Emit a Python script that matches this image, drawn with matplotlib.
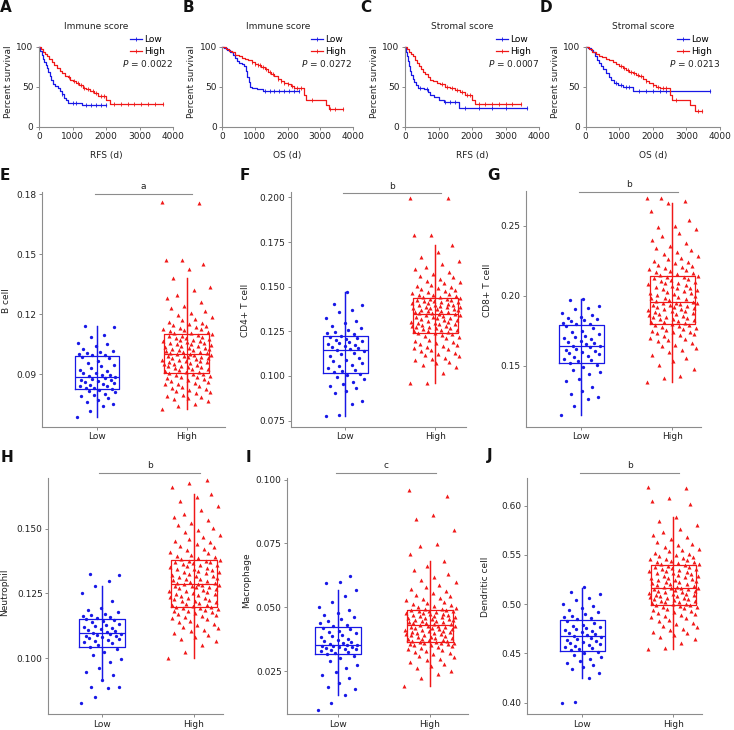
import matplotlib
matplotlib.use("Agg")
import matplotlib.pyplot as plt
import numpy as np
from matplotlib.lines import Line2D

# --------------------------------------------------------------------------
# 設定
# --------------------------------------------------------------------------
W, H = 734, 730
BLUE = "#1818e6"
RED = "#f01818"
GREY = "#8c8c8c"
TXT = "#222222"
FS = 6.5

plt.rcParams["font.family"] = "DejaVu Sans"
plt.rcParams["mathtext.fontset"] = "dejavusans"

# --------------------------------------------------------------------------
# Kaplan-Meier data (time in days, percent survival, censor times)
# --------------------------------------------------------------------------
A_LOW_T = [0, 40, 80, 120, 160, 200, 240, 280, 320, 360, 420, 480, 560, 620, 680, 740, 800, 880, 1280, 2000]
A_LOW_S = [100, 95, 90, 85, 81, 77, 73, 68, 63, 58, 54, 51, 48, 45, 41, 36, 33, 30, 27, 27]
A_LOW_CENS = [700, 1000, 1100, 1400, 1550, 1700, 1850, 2000]
A_HIGH_T = [0, 60, 120, 180, 240, 300, 380, 460, 540, 620, 700, 780, 860, 940, 1020, 1100, 1200,
            1300, 1400, 1520, 1640, 1760, 2010, 2120, 3700]
A_HIGH_S = [100, 97, 94, 91, 88, 85, 81, 77, 73, 70, 67, 64, 62, 59, 57, 55, 52, 49, 47, 45, 42, 39, 34, 28, 28]
A_HIGH_CENS = [900, 1050, 1150, 1250, 1350, 1450, 1600, 1700, 1850, 1950, 2250, 2450, 2650, 2850,
               3050, 3250, 3450, 3700]

B_LOW_T = [0, 60, 150, 250, 320, 380, 450, 520, 600, 680, 730, 770, 810, 850, 920, 1050, 1250, 2350]
B_LOW_S = [100, 98, 96, 94, 90, 86, 82, 80, 78, 76, 70, 62, 56, 50, 48, 47, 45, 45]
B_LOW_CENS = [1300, 1450, 1600, 1750, 1900, 2050, 2200, 2350]
B_HIGH_T = [0, 100, 200, 300, 400, 500, 600, 700, 800, 900, 1000, 1100, 1200, 1300, 1400, 1500, 1600,
            1700, 1800, 1900, 2000, 2100, 2200, 2500, 2560, 3170, 3280, 3700]
B_HIGH_S = [100, 97, 95, 93, 90, 88, 86, 85, 83, 81, 79, 77, 75, 72, 69, 66, 63, 60, 57, 55, 53, 51, 49,
            40, 33, 27, 22, 22]
B_HIGH_CENS = [900, 1000, 1100, 1150, 1250, 1350, 1450, 1550, 1700, 1800, 1900, 2000, 2150, 2300,
               2400, 2750, 3300, 3450, 3700]

C_LOW_T = [0, 30, 60, 90, 120, 150, 190, 230, 280, 340, 400, 560, 680, 760, 880, 1000, 1150, 1620, 3650]
C_LOW_S = [100, 94, 88, 82, 76, 70, 65, 60, 56, 52, 49, 47, 44, 40, 37, 34, 31, 24, 24]
C_LOW_CENS = [450, 650, 1200, 1350, 1500, 1800, 2200, 2600, 3000, 3650]
C_HIGH_T = [0, 60, 120, 180, 240, 300, 360, 420, 480, 540, 600, 680, 760, 850, 950, 1050, 1200, 1350,
            1500, 1650, 1800, 2000, 2100, 3450]
C_HIGH_S = [100, 97, 94, 91, 88, 84, 80, 76, 72, 69, 66, 62, 59, 57, 55, 53, 50, 48, 46, 43, 40, 33, 28, 28]
C_HIGH_CENS = [1100, 1250, 1400, 1550, 1700, 1850, 1950, 2200, 2400, 2600, 2800, 3000, 3200, 3450]

D_LOW_T = [0, 80, 160, 230, 290, 340, 390, 450, 520, 600, 680, 760, 850, 950, 1100, 1400, 3700]
D_LOW_S = [100, 98, 96, 93, 88, 84, 80, 76, 72, 67, 62, 58, 55, 52, 50, 45, 45]
D_LOW_CENS = [900, 1050, 1200, 1300, 1600, 1800, 2000, 2200, 2400, 3700]
D_HIGH_T = [0, 100, 200, 300, 400, 500, 600, 700, 800, 900, 1000, 1100, 1200, 1300, 1400, 1500, 1600,
            1700, 1800, 1900, 2000, 2100, 2200, 2500, 2560, 3100, 3250, 3450]
D_HIGH_S = [100, 97, 94, 91, 89, 87, 85, 83, 81, 78, 76, 73, 71, 69, 67, 65, 63, 60, 57, 55, 52, 50, 48,
            40, 33, 27, 20, 20]
D_HIGH_CENS = [1050, 1150, 1250, 1350, 1450, 1550, 1650, 1800, 2000, 2150, 2300, 2400, 2700, 3350, 3450]

KM_TITLES = ["Immune score", "Immune score", "Stromal score", "Stromal score"]
KM_XLABELS = ["RFS (d)", "OS (d)", "RFS (d)", "OS (d)"]
KM_PVALUES = ["0.0022", "0.0272", "0.0007", "0.0213"]

# --------------------------------------------------------------------------
# Immune cell infiltration (box stats: whisker low, Q1, median, Q3, whisker high)
# --------------------------------------------------------------------------
E_LOW = [0.0687, 0.0718, 0.0741, 0.0752, 0.0760, 0.0771, 0.0779, 0.0790, 0.0798, 0.0803, 0.0811, 0.0815,
         0.0820, 0.0826, 0.0830, 0.0833, 0.0839, 0.0841, 0.0846, 0.0852, 0.0855, 0.0861, 0.0864, 0.0869,
         0.0873, 0.0878, 0.0882, 0.0886, 0.0889, 0.0894, 0.0897, 0.0905, 0.0908, 0.0916, 0.0921, 0.0933,
         0.0940, 0.0948, 0.0957, 0.0968, 0.0979, 0.0988, 0.0994, 0.0997, 0.1001, 0.1004, 0.1009, 0.1016,
         0.1027, 0.1042, 0.1051, 0.1058, 0.1086, 0.1097, 0.1138, 0.1143]
E_HIGH = [0.0727, 0.0741, 0.0752, 0.0768, 0.0774, 0.0781, 0.0786, 0.0793, 0.0797, 0.0804, 0.0809, 0.0815,
          0.0821, 0.0826, 0.0833, 0.0836, 0.0843, 0.0849, 0.0852, 0.0858, 0.0863, 0.0866, 0.0871, 0.0876,
          0.0879, 0.0884, 0.0887, 0.0892, 0.0896, 0.0899, 0.0903, 0.0906, 0.0910, 0.0913, 0.0918, 0.0920,
          0.0925, 0.0927, 0.0931, 0.0934, 0.0937, 0.0941, 0.0943, 0.0946, 0.0950, 0.0953, 0.0955, 0.0959,
          0.0962, 0.0964, 0.0968, 0.0970, 0.0973, 0.0977, 0.0979, 0.0982, 0.0985, 0.0988, 0.0990, 0.0993,
          0.0995, 0.0997, 0.0999, 0.1001, 0.1004, 0.1007, 0.1010, 0.1012, 0.1016, 0.1019, 0.1021, 0.1025,
          0.1028, 0.1031, 0.1033, 0.1037, 0.1040, 0.1043, 0.1046, 0.1049, 0.1051, 0.1055, 0.1058, 0.1061,
          0.1064, 0.1067, 0.1070, 0.1073, 0.1076, 0.1080, 0.1083, 0.1086, 0.1090, 0.1093, 0.1096, 0.1100,
          0.1104, 0.1108, 0.1112, 0.1115, 0.1119, 0.1124, 0.1128, 0.1133, 0.1137, 0.1142, 0.1148, 0.1153,
          0.1158, 0.1163, 0.1170, 0.1178, 0.1187, 0.1195, 0.1204, 0.1216, 0.1228, 0.1243, 0.1262, 0.1280,
          0.1296, 0.1318, 0.1335, 0.1378, 0.1423, 0.1448, 0.1468, 0.1473, 0.1756, 0.1758]
E_LOW_BOX = [0.0687, 0.0828, 0.0887, 0.0992, 0.1143]
E_HIGH_BOX = [0.0727, 0.0908, 0.1002, 0.1102, 0.1378]

F_LOW = [0.0776, 0.0779, 0.0841, 0.0858, 0.0905, 0.0918, 0.0932, 0.0945, 0.0957, 0.0968, 0.0981, 0.0993,
         0.1004, 0.1012, 0.1020, 0.1028, 0.1035, 0.1046, 0.1054, 0.1061, 0.1072, 0.1083, 0.1092, 0.1101,
         0.1112, 0.1121, 0.1130, 0.1140, 0.1147, 0.1152, 0.1157, 0.1163, 0.1168, 0.1172, 0.1178, 0.1184,
         0.1189, 0.1195, 0.1201, 0.1207, 0.1213, 0.1219, 0.1226, 0.1233, 0.1240, 0.1246, 0.1255, 0.1268,
         0.1282, 0.1295, 0.1308, 0.1322, 0.1358, 0.1372, 0.1398, 0.1405, 0.1468]
F_HIGH = [0.0959, 0.0962, 0.1018, 0.1052, 0.1063, 0.1071, 0.1080, 0.1088, 0.1095, 0.1103, 0.1110, 0.1118,
          0.1125, 0.1131, 0.1138, 0.1144, 0.1150, 0.1157, 0.1163, 0.1170, 0.1176, 0.1181, 0.1187, 0.1193,
          0.1198, 0.1204, 0.1210, 0.1216, 0.1222, 0.1228, 0.1233, 0.1238, 0.1243, 0.1246, 0.1250, 0.1253,
          0.1256, 0.1259, 0.1263, 0.1266, 0.1269, 0.1272, 0.1276, 0.1279, 0.1282, 0.1285, 0.1289, 0.1292,
          0.1295, 0.1298, 0.1302, 0.1305, 0.1309, 0.1312, 0.1315, 0.1319, 0.1322, 0.1326, 0.1329, 0.1332,
          0.1336, 0.1339, 0.1342, 0.1345, 0.1349, 0.1352, 0.1354, 0.1357, 0.1360, 0.1362, 0.1365, 0.1368,
          0.1370, 0.1373, 0.1376, 0.1378, 0.1381, 0.1384, 0.1386, 0.1389, 0.1392, 0.1395, 0.1397, 0.1400,
          0.1403, 0.1406, 0.1409, 0.1412, 0.1415, 0.1418, 0.1421, 0.1424, 0.1427, 0.1430, 0.1433, 0.1436,
          0.1440, 0.1443, 0.1447, 0.1451, 0.1455, 0.1459, 0.1464, 0.1469, 0.1474, 0.1479, 0.1485, 0.1491,
          0.1497, 0.1504, 0.1511, 0.1518, 0.1526, 0.1534, 0.1543, 0.1552, 0.1562, 0.1573, 0.1585, 0.1598,
          0.1612, 0.1627, 0.1645, 0.1668, 0.1695, 0.1731, 0.1789, 0.1792, 0.1995, 0.1996]
F_LOW_BOX = [0.0776, 0.1017, 0.1144, 0.1222, 0.1468]
F_HIGH_BOX = [0.0959, 0.1241, 0.1347, 0.1438, 0.1731]

G_LOW = [0.1150, 0.1214, 0.1262, 0.1275, 0.1301, 0.1318, 0.1352, 0.1395, 0.1408, 0.1442, 0.1455, 0.1471,
         0.1490, 0.1508, 0.1524, 0.1533, 0.1545, 0.1552, 0.1561, 0.1570, 0.1582, 0.1590, 0.1598, 0.1606,
         0.1615, 0.1624, 0.1632, 0.1640, 0.1646, 0.1655, 0.1661, 0.1670, 0.1678, 0.1689, 0.1697, 0.1708,
         0.1716, 0.1727, 0.1739, 0.1751, 0.1768, 0.1784, 0.1798, 0.1802, 0.1810, 0.1818, 0.1827, 0.1835,
         0.1846, 0.1853, 0.1862, 0.1878, 0.1905, 0.1913, 0.1930, 0.1968, 0.1976]
G_HIGH = [0.1388, 0.1412, 0.1425, 0.1478, 0.1510, 0.1538, 0.1556, 0.1580, 0.1598, 0.1612, 0.1630, 0.1645,
          0.1652, 0.1667, 0.1675, 0.1688, 0.1694, 0.1703, 0.1711, 0.1718, 0.1726, 0.1733, 0.1740, 0.1746,
          0.1752, 0.1759, 0.1765, 0.1771, 0.1778, 0.1784, 0.1790, 0.1795, 0.1801, 0.1806, 0.1811, 0.1817,
          0.1822, 0.1827, 0.1833, 0.1838, 0.1843, 0.1848, 0.1853, 0.1858, 0.1864, 0.1869, 0.1874, 0.1879,
          0.1884, 0.1889, 0.1894, 0.1899, 0.1904, 0.1909, 0.1914, 0.1919, 0.1924, 0.1929, 0.1934, 0.1939,
          0.1943, 0.1947, 0.1950, 0.1953, 0.1958, 0.1964, 0.1970, 0.1976, 0.1982, 0.1988, 0.1994, 0.2000,
          0.2006, 0.2012, 0.2018, 0.2024, 0.2030, 0.2036, 0.2042, 0.2048, 0.2054, 0.2060, 0.2066, 0.2072,
          0.2078, 0.2084, 0.2090, 0.2096, 0.2102, 0.2108, 0.2114, 0.2120, 0.2126, 0.2132, 0.2137, 0.2142,
          0.2149, 0.2155, 0.2162, 0.2169, 0.2176, 0.2183, 0.2190, 0.2198, 0.2206, 0.2214, 0.2223, 0.2232,
          0.2241, 0.2251, 0.2262, 0.2273, 0.2285, 0.2298, 0.2312, 0.2327, 0.2343, 0.2360, 0.2380, 0.2402,
          0.2425, 0.2448, 0.2475, 0.2490, 0.2497, 0.2540, 0.2610, 0.2662, 0.2680, 0.2700, 0.2702]
G_LOW_BOX = [0.1150, 0.1521, 0.1643, 0.1795, 0.1976]
G_HIGH_BOX = [0.1388, 0.1798, 0.1955, 0.2145, 0.2662]

H_LOW = [0.0826, 0.0852, 0.0886, 0.0889, 0.0891, 0.0916, 0.0935, 0.0948, 0.0962, 0.0985, 0.0998, 0.1012,
         0.1025, 0.1036, 0.1045, 0.1050, 0.1057, 0.1061, 0.1066, 0.1070, 0.1074, 0.1078, 0.1081, 0.1084,
         0.1087, 0.1090, 0.1093, 0.1095, 0.1098, 0.1102, 0.1106, 0.1110, 0.1114, 0.1118, 0.1122, 0.1126,
         0.1130, 0.1134, 0.1138, 0.1142, 0.1146, 0.1150, 0.1154, 0.1158, 0.1163, 0.1168, 0.1172, 0.1178,
         0.1185, 0.1193, 0.1221, 0.1250, 0.1280, 0.1296, 0.1320, 0.1323]
H_HIGH = [0.1000, 0.1024, 0.1052, 0.1065, 0.1074, 0.1082, 0.1090, 0.1097, 0.1104, 0.1110, 0.1116, 0.1122,
          0.1128, 0.1134, 0.1140, 0.1145, 0.1150, 0.1155, 0.1160, 0.1164, 0.1168, 0.1172, 0.1175, 0.1178,
          0.1181, 0.1184, 0.1187, 0.1190, 0.1192, 0.1194, 0.1196, 0.1198, 0.1201, 0.1204, 0.1207, 0.1210,
          0.1213, 0.1216, 0.1219, 0.1222, 0.1225, 0.1228, 0.1231, 0.1234, 0.1237, 0.1240, 0.1243, 0.1246,
          0.1249, 0.1252, 0.1255, 0.1258, 0.1261, 0.1264, 0.1267, 0.1270, 0.1273, 0.1276, 0.1278, 0.1280,
          0.1282, 0.1284, 0.1285, 0.1286, 0.1289, 0.1292, 0.1295, 0.1298, 0.1301, 0.1304, 0.1307, 0.1310,
          0.1313, 0.1316, 0.1319, 0.1322, 0.1325, 0.1328, 0.1331, 0.1334, 0.1337, 0.1340, 0.1343, 0.1346,
          0.1349, 0.1352, 0.1355, 0.1358, 0.1361, 0.1364, 0.1367, 0.1370, 0.1372, 0.1374, 0.1376, 0.1378,
          0.1382, 0.1386, 0.1390, 0.1395, 0.1400, 0.1405, 0.1410, 0.1416, 0.1422, 0.1428, 0.1434, 0.1440,
          0.1447, 0.1454, 0.1461, 0.1469, 0.1477, 0.1485, 0.1494, 0.1503, 0.1512, 0.1522, 0.1533, 0.1545,
          0.1558, 0.1572, 0.1588, 0.1605, 0.1620, 0.1634, 0.1660, 0.1675, 0.1687]
H_LOW_BOX = [0.0916, 0.1042, 0.1096, 0.1152, 0.1280]
H_HIGH_BOX = [0.1000, 0.1199, 0.1287, 0.1379, 0.1634]

I_LOW = [0.0099, 0.0125, 0.0159, 0.0182, 0.0190, 0.0205, 0.0222, 0.0235, 0.0248, 0.0262, 0.0275, 0.0290,
         0.0302, 0.0311, 0.0318, 0.0322, 0.0326, 0.0329, 0.0333, 0.0336, 0.0339, 0.0341, 0.0344, 0.0346,
         0.0348, 0.0350, 0.0351, 0.0352, 0.0356, 0.0360, 0.0365, 0.0369, 0.0374, 0.0378, 0.0383, 0.0388,
         0.0393, 0.0398, 0.0403, 0.0409, 0.0415, 0.0421, 0.0427, 0.0433, 0.0440, 0.0448, 0.0455, 0.0463,
         0.0470, 0.0478, 0.0488, 0.0502, 0.0520, 0.0545, 0.0570, 0.0596, 0.0598, 0.0621]
I_HIGH = [0.0191, 0.0223, 0.0238, 0.0252, 0.0263, 0.0272, 0.0280, 0.0287, 0.0294, 0.0300, 0.0306, 0.0311,
          0.0316, 0.0321, 0.0326, 0.0330, 0.0334, 0.0338, 0.0342, 0.0345, 0.0348, 0.0351, 0.0354, 0.0356,
          0.0358, 0.0360, 0.0361, 0.0362, 0.0363, 0.0364, 0.0367, 0.0369, 0.0371, 0.0373, 0.0376, 0.0378,
          0.0380, 0.0382, 0.0384, 0.0386, 0.0388, 0.0391, 0.0393, 0.0395, 0.0397, 0.0399, 0.0401, 0.0403,
          0.0405, 0.0407, 0.0409, 0.0411, 0.0413, 0.0415, 0.0417, 0.0419, 0.0421, 0.0423, 0.0425, 0.0427,
          0.0428, 0.0429, 0.0432, 0.0434, 0.0436, 0.0438, 0.0440, 0.0442, 0.0444, 0.0446, 0.0448, 0.0450,
          0.0452, 0.0454, 0.0456, 0.0458, 0.0460, 0.0462, 0.0464, 0.0466, 0.0468, 0.0470, 0.0472, 0.0474,
          0.0476, 0.0478, 0.0480, 0.0482, 0.0484, 0.0486, 0.0487, 0.0488, 0.0489, 0.0492, 0.0495, 0.0498,
          0.0501, 0.0505, 0.0509, 0.0513, 0.0517, 0.0522, 0.0527, 0.0532, 0.0538, 0.0544, 0.0550, 0.0557,
          0.0564, 0.0572, 0.0580, 0.0589, 0.0598, 0.0608, 0.0619, 0.0632, 0.0646, 0.0662, 0.0682, 0.0710,
          0.0740, 0.0749, 0.0804, 0.0845, 0.0863, 0.0935, 0.0961]
I_LOW_BOX = [0.0159, 0.0316, 0.0353, 0.0424, 0.0570]
I_HIGH_BOX = [0.0191, 0.0365, 0.0430, 0.0490, 0.0682]

J_LOW = [0.400, 0.401, 0.425, 0.430, 0.434, 0.436, 0.438, 0.440, 0.442, 0.444, 0.446, 0.448, 0.450, 0.451,
         0.453, 0.454, 0.456, 0.457, 0.458, 0.459, 0.460, 0.461, 0.462, 0.463, 0.464, 0.465, 0.466, 0.467,
         0.468, 0.469, 0.470, 0.471, 0.472, 0.473, 0.474, 0.475, 0.476, 0.477, 0.478, 0.479, 0.481, 0.483,
         0.485, 0.486, 0.487, 0.488, 0.490, 0.492, 0.494, 0.496, 0.498, 0.500, 0.504, 0.506, 0.510, 0.512,
         0.517]
J_HIGH = [0.4544, 0.4560, 0.4610, 0.4650, 0.4670, 0.4690, 0.4705, 0.4720, 0.4735, 0.4750, 0.4765, 0.4780,
          0.4795, 0.4810, 0.4825, 0.4840, 0.4855, 0.4870, 0.4880, 0.4890, 0.4900, 0.4910, 0.4920, 0.4930,
          0.4940, 0.4950, 0.4960, 0.4968, 0.4975, 0.4982, 0.4987, 0.4995, 0.5000, 0.5006, 0.5012, 0.5018,
          0.5024, 0.5030, 0.5036, 0.5042, 0.5048, 0.5054, 0.5060, 0.5066, 0.5072, 0.5078, 0.5084, 0.5090,
          0.5096, 0.5102, 0.5108, 0.5114, 0.5120, 0.5126, 0.5132, 0.5138, 0.5144, 0.5150, 0.5155, 0.5160,
          0.5164, 0.5167, 0.5172, 0.5179, 0.5186, 0.5193, 0.5200, 0.5207, 0.5214, 0.5221, 0.5228, 0.5235,
          0.5242, 0.5249, 0.5256, 0.5263, 0.5270, 0.5277, 0.5284, 0.5291, 0.5298, 0.5305, 0.5312, 0.5319,
          0.5326, 0.5333, 0.5340, 0.5347, 0.5354, 0.5361, 0.5368, 0.5375, 0.5382, 0.5390, 0.5396, 0.5404,
          0.5410, 0.5417, 0.5424, 0.5431, 0.5438, 0.5446, 0.5454, 0.5462, 0.5471, 0.5480, 0.5490, 0.5500,
          0.5511, 0.5523, 0.5536, 0.5550, 0.5565, 0.5580, 0.5597, 0.5615, 0.5635, 0.5657, 0.5680, 0.5705,
          0.5732, 0.5765, 0.5800, 0.5840, 0.5882, 0.6020, 0.6050, 0.6080, 0.6180, 0.6185]
J_LOW_BOX = [0.425, 0.452, 0.4676, 0.4841, 0.5169]
J_HIGH_BOX = [0.4544, 0.499, 0.5169, 0.5399, 0.5882]

GROUPS = ["Low", "High"]
CELL_LABELS = ["B cell", "CD4+ T cell", "CD8+ T cell", "Neutrophil", "Macrophage", "Dendritic cell"]
SIG_MARKS = ["a", "b", "b", "b", "c", "b"]
E_YTICKS = ["0.09", "0.12", "0.15", "0.18"]
F_YTICKS = ["0.075", "0.100", "0.125", "0.150", "0.175", "0.200"]
G_YTICKS = ["0.15", "0.20", "0.25"]
H_YTICKS = ["0.100", "0.125", "0.150"]
I_YTICKS = ["0.025", "0.050", "0.075", "0.100"]
J_YTICKS = ["0.40", "0.45", "0.50", "0.55", "0.60"]


# --------------------------------------------------------------------------
# ユーティリティ
# --------------------------------------------------------------------------
def px_axes(fig, l, t, r, b):
    return fig.add_axes([l / W, 1 - b / H, (r - l) / W, (b - t) / H])


def style(ax):
    for s in ("top", "right"):
        ax.spines[s].set_visible(False)
    for s in ("left", "bottom"):
        ax.spines[s].set_color(GREY)
        ax.spines[s].set_linewidth(0.8)
    ax.tick_params(length=2.5, width=0.7, color=GREY, labelsize=FS, labelcolor=TXT, pad=1.5)


def step_value(t, s, x):
    idx = np.searchsorted(t, x, side="right") - 1
    return np.asarray(s)[idx]


def jitter(n, spread):
    # 決定的な横方向のばらつき（位置だけ、値には触れない）
    i = np.arange(n)
    u = (i * 0.6180339887 + (i % 5) * 0.2113 + (i % 3) * 0.3571 + (i % 7) * 0.1429) % 1.0
    return (u - 0.5) * spread


def km_panel(fig, box, low, high, title, xlabel, pval):
    l, t, r, b = box
    ax = px_axes(fig, l, t, r, b)
    style(ax)
    for (tt, ss, cc), col in ((low, BLUE), (high, RED)):
        ax.step(tt, ss, where="post", color=col, lw=0.9, clip_on=False)
        ax.plot(cc, step_value(tt, ss, cc), ls="none", marker="|", ms=2.5, mew=0.6,
                color=col, clip_on=False)
    ax.set_xlim(0, 4000)
    ax.set_ylim(0, 100)
    ax.set_xticks([0, 1000, 2000, 3000, 4000])
    ax.set_yticks([0, 50, 100])
    ax.set_xlabel(xlabel, fontsize=FS, color=TXT)
    ax.set_ylabel("Percent survival", fontsize=FS, color=TXT)
    ax.xaxis.set_label_coords(0.5, -24.0 / (b - t))
    ax.yaxis.set_label_coords(-26.0 / (r - l), 0.56)
    ax.text(0.43, 1.25, title, transform=ax.transAxes, ha="center", va="center",
            fontsize=FS, color=TXT)
    handles = [Line2D([], [], color=BLUE, lw=0.9, marker="|", ms=2.5, mew=0.6),
               Line2D([], [], color=RED, lw=0.9, marker="|", ms=2.5, mew=0.6)]
    ax.legend(handles, GROUPS, loc="upper left", bbox_to_anchor=(0.68, 1.14), frameon=False,
              fontsize=FS, handlelength=1.3, handletextpad=0.3, borderpad=0, borderaxespad=0,
              labelspacing=0.25)
    ax.text(1.0, 0.785, r"$\it{P}$ = " + pval, transform=ax.transAxes, ha="right", va="center",
            fontsize=FS, color=TXT)
    return ax


def box_panel(fig, box, centers, ylim, ticks, ylabel, ylab_xy, low, high, low_box, high_box,
              mark, mark_y):
    l, t, r, b = box
    ax = px_axes(fig, l, t, r, b)
    style(ax)
    c1, c2 = centers
    unit = c2 - c1
    for pos, vals, stats, col, mk, ms, spread in ((1, low, low_box, BLUE, "o", 2.4, 0.44),
                                                   (2, high, high_box, RED, "^", 2.9, 0.56)):
        lo, q1, med, q3, hi = stats
        ax.bxp([dict(whislo=lo, q1=q1, med=med, q3=q3, whishi=hi, fliers=[])], positions=[pos],
               widths=0.5, showcaps=False, showfliers=False, manage_ticks=False,
               boxprops=dict(color=col, lw=0.9), medianprops=dict(color=col, lw=0.9),
               whiskerprops=dict(color=col, lw=0.9))
        ax.plot([pos, pos], [lo, hi], color=col, lw=0.9)
        vals = np.asarray(vals)
        ax.plot(pos + jitter(len(vals), spread), vals, ls="none", marker=mk, ms=ms, mew=0,
                color=col, clip_on=False)
    ax.set_xlim(1 - (c1 - l) / unit, 2 + (r - c2) / unit)
    ax.set_ylim(*ylim)
    ax.set_xticks([1, 2])
    ax.set_xticklabels(GROUPS)
    ax.set_yticks([float(v) for v in ticks])
    ax.set_yticklabels(ticks)
    ax.set_ylabel(ylabel, fontsize=FS, color=TXT)
    lx, ly = ylab_xy
    ax.yaxis.set_label_coords(-(l - lx - 4.5) / (r - l), (b - ly) / (b - t))
    tr = ax.get_xaxis_transform()
    ax.plot([0.975, 2.06], [mark_y, mark_y], transform=tr, color=GREY, lw=0.8, clip_on=False)
    ax.text(1.52, mark_y + 0.03, mark, transform=tr, ha="center", va="center", fontsize=FS,
            color=TXT)
    return ax


# --------------------------------------------------------------------------
# メイン処理
# --------------------------------------------------------------------------
def main():
    fig = plt.figure(figsize=(W / 100, H / 100), dpi=100)

    km_boxes = [(39, 46.7, 173, 126.7), (222.3, 46.7, 352.7, 126.7),
                (405, 46.7, 539, 126.7), (585.7, 46.7, 720, 126.7)]
    km_data = [((A_LOW_T, A_LOW_S, A_LOW_CENS), (A_HIGH_T, A_HIGH_S, A_HIGH_CENS)),
               ((B_LOW_T, B_LOW_S, B_LOW_CENS), (B_HIGH_T, B_HIGH_S, B_HIGH_CENS)),
               ((C_LOW_T, C_LOW_S, C_LOW_CENS), (C_HIGH_T, C_HIGH_S, C_HIGH_CENS)),
               ((D_LOW_T, D_LOW_S, D_LOW_CENS), (D_HIGH_T, D_HIGH_S, D_HIGH_CENS))]
    for i in range(4):
        km_panel(fig, km_boxes[i], km_data[i][0], km_data[i][1], KM_TITLES[i], KM_XLABELS[i],
                 KM_PVALUES[i])

    panels = [
        ((42.3, 191.7, 225, 426.7), (97, 186.7), (0.0637, 0.1812), E_YTICKS, (6.7, 301),
         E_LOW, E_HIGH, E_LOW_BOX, E_HIGH_BOX, 0.99),
        ((290.7, 191.7, 466, 426.7), (345.3, 435.3), (0.0716, 0.2032), F_YTICKS, (245, 310),
         F_LOW, F_HIGH, F_LOW_BOX, F_HIGH_BOX, 0.993),
        ((526, 190.7, 700.7, 426.7), (581.3, 672.3), (0.1066, 0.2752), G_YTICKS, (487, 290),
         G_LOW, G_HIGH, G_LOW_BOX, G_HIGH_BOX, 0.995),
        ((48.3, 478.3, 222.7, 714), (101.7, 194), (0.0785, 0.1694), H_YTICKS, (5, 592),
         H_LOW, H_HIGH, H_LOW_BOX, H_HIGH_BOX, 1.024),
        ((287.3, 478.3, 468.3, 714), (338.3, 430), (0.0083, 0.1005), I_YTICKS, (247, 580),
         I_LOW, I_HIGH, I_LOW_BOX, I_HIGH_BOX, 1.024),
        ((527.3, 478.3, 702, 714), (582.3, 673.3), (0.3885, 0.6278), J_YTICKS, (486, 587),
         J_LOW, J_HIGH, J_LOW_BOX, J_HIGH_BOX, 1.024),
    ]
    for i, p in enumerate(panels):
        box, centers, ylim, ticks, lxy, lo, hi, lob, hib, my = p
        box_panel(fig, box, centers, ylim, ticks, CELL_LABELS[i], lxy, lo, hi, lob, hib,
                  SIG_MARKS[i], my)

    letters = [("A", 6, 7.5), ("B", 188, 7.5), ("C", 366, 7.5), ("D", 546, 7.5),
               ("E", 5, 175), ("F", 245, 175), ("G", 493, 175),
               ("H", 7, 457), ("I", 248, 457), ("J", 490, 455)]
    for s, x, y in letters:
        fig.text(x / W, 1 - y / H, s, ha="center", va="center", fontsize=11,
                 fontweight="bold", color="#111111")

    fig.savefig("out.png", dpi=100)
    plt.close(fig)


if __name__ == "__main__":
    main()
